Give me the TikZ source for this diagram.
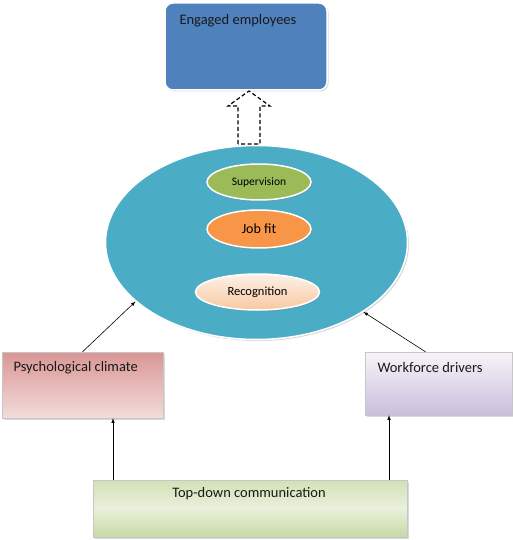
\documentclass[tikz,border=0pt]{standalone}
\usepackage{fontspec}
\setmainfont{Carlito}
\usetikzlibrary{shapes.geometric,shadows}
\definecolor{engblue}{HTML}{4F81BD}
\definecolor{zonecyan}{HTML}{4BACC6}
\definecolor{supgreen}{HTML}{9BBB59}
\definecolor{fitorange}{HTML}{F79646}
\definecolor{rectop}{HTML}{FDF1E8}
\definecolor{recbot}{HTML}{F8C8A0}
\definecolor{psytop}{HTML}{D99694}
\definecolor{psybot}{HTML}{F3DCDB}
\definecolor{wftop}{HTML}{F7F4F9}
\definecolor{wfbot}{HTML}{CBBEDB}
\definecolor{tdtop}{HTML}{D3E1B6}
\definecolor{tdmid}{HTML}{E9F0DC}
\definecolor{tdbot}{HTML}{C8D9A5}

\begin{document}
\begin{tikzpicture}
[x=1pt,y=-1pt,
 shade/.style={drop shadow={opacity=0.3,shadow xshift=1.5pt,shadow yshift=-1.5pt}},
 blob/.style={ellipse,draw=white,line width=1.5pt,inner sep=0pt,shade},
 box/.style={rectangle,draw=gray!45,inner sep=0pt,shade},
 lbl/.style={font=\fontsize{14.5}{17}\selectfont,text=black!90},
 arr/.style={->,>=latex,semithick}]
\useasboundingbox (0,0) rectangle (513,540);
\node[box,rounded corners=8pt,fill=engblue,draw=white,line width=1.5pt,
      minimum width=162pt,minimum height=87pt](eng) at (246,46.5){};
\node[lbl,anchor=west](engt) at (176,21){Engaged employees};
\node[blob,fill=zonecyan,minimum width=302pt,minimum height=194pt](zone) at (256.5,242.5){};
\node[blob,fill=supgreen,minimum width=104pt,minimum height=36pt,
      font=\fontsize{11.5}{13}\selectfont](sup) at (259,182){Supervision};
\node[blob,fill=fitorange,minimum width=104pt,minimum height=38pt,
      font=\fontsize{14}{16}\selectfont](fit) at (259,229){Job fit};
\node[blob,top color=rectop,bottom color=recbot,minimum width=124pt,minimum height=36pt,
      font=\fontsize{12.5}{15}\selectfont](rec) at (257.5,292){Recognition};
% dashed hollow arrow
\draw[black,line width=1.2pt,dash pattern=on 4pt off 2.5pt,fill=white]
  (238,144) -- (238,106) -- (228,106) -- (249,91)
  -- (270,106) -- (260,106) -- (260,144) -- cycle;
\node[box,top color=psytop,bottom color=psybot,
      minimum width=161pt,minimum height=66pt](psy) at (82.5,385){};
\node[lbl,anchor=west](psyt) at (10,368){Psychological climate};
\node[box,top color=wftop,bottom color=wfbot,
      minimum width=147pt,minimum height=63pt](wf) at (438.5,383.5){};
\node[lbl,anchor=west](wft) at (374,368){Workforce drivers};
\node[box,top color=tdtop,bottom color=tdbot,middle color=tdmid,
      minimum width=314pt,minimum height=57pt](td) at (250,508.5){};
\node[lbl](tdt) at (249,494){Top-down communication};
\draw[arr] (psy.north) -- (zone.206);
\draw[arr] ([xshift=-13pt]wf.north) -- (zone.327);
\draw[arr] ([xshift=-137pt]td.north) -- ([xshift=30.5pt]psy.south);
\draw[arr] ([xshift=139pt]td.north) -- ([xshift=-49.5pt]wf.south);
\end{tikzpicture}
\end{document}
